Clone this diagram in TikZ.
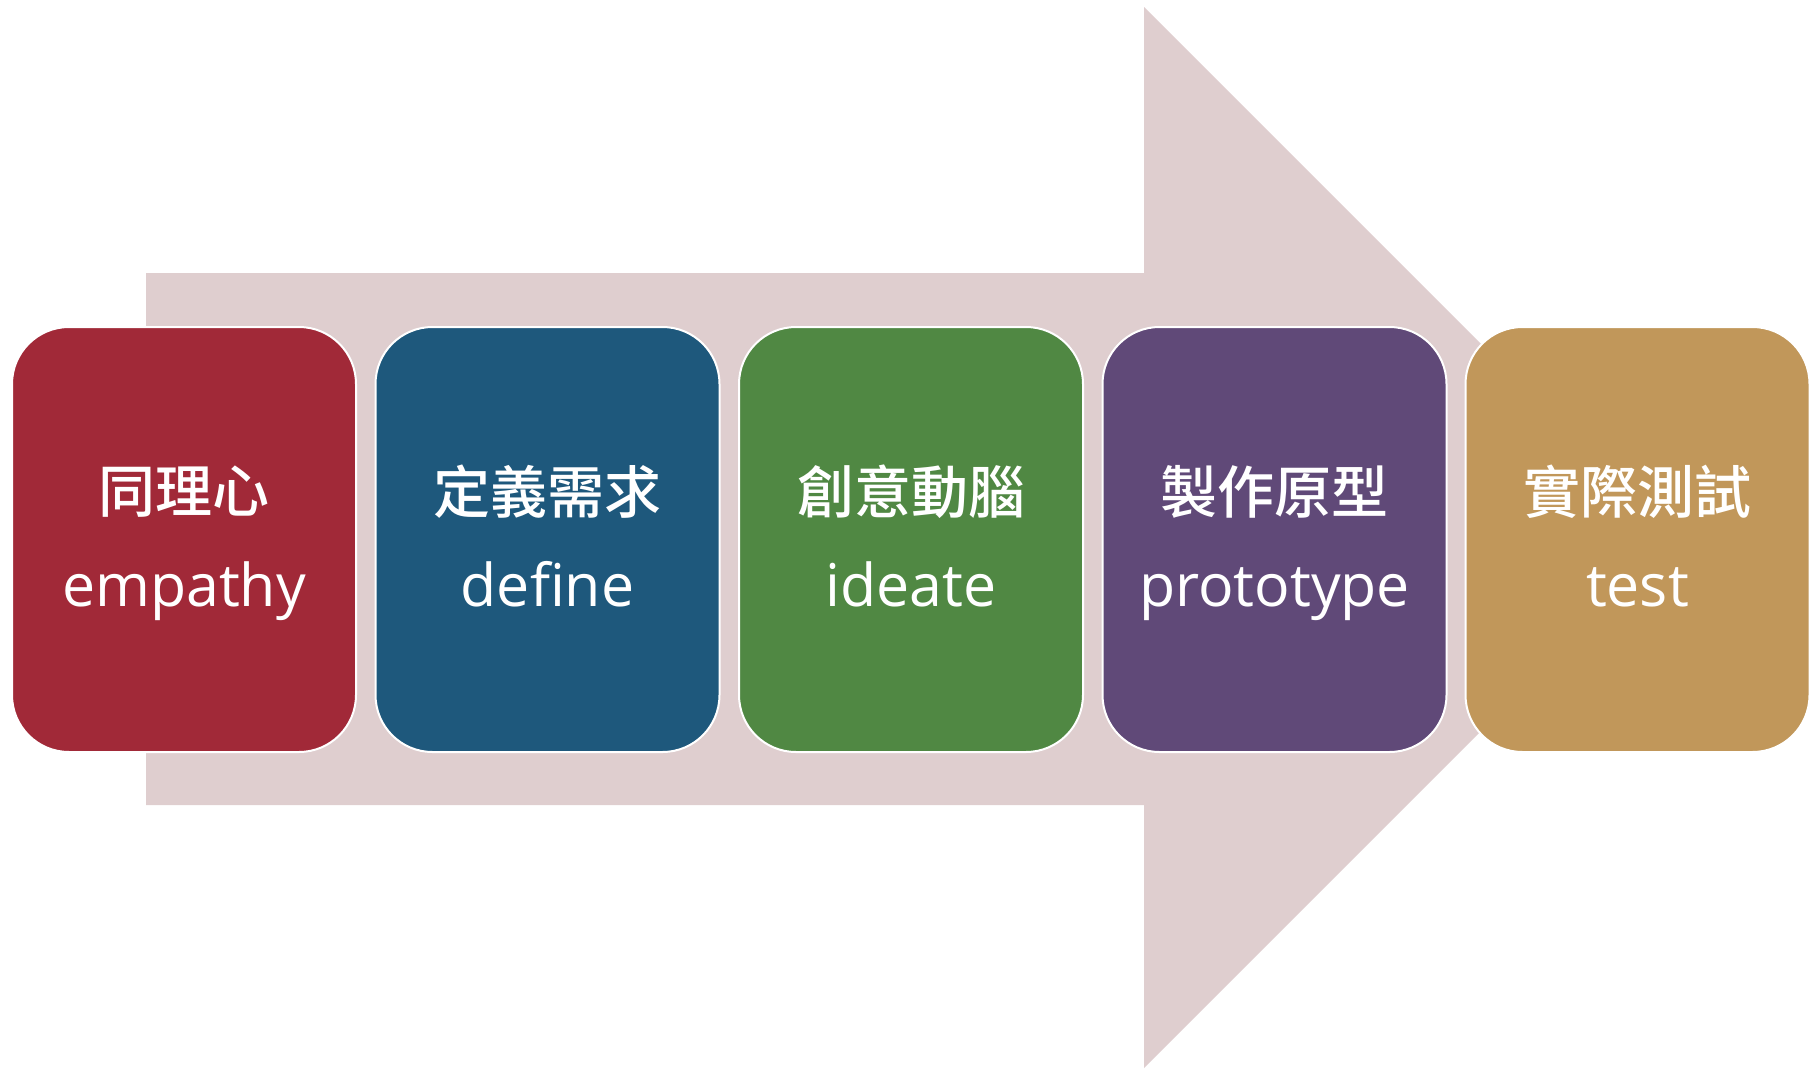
\documentclass[tikz,border=0pt]{standalone}
\usepackage{fontspec}
\setmainfont{Open Sans}
\newfontfamily\cjk{Noto Sans CJK TC Medium}
\definecolor{arrowc}{HTML}{DFCECF}
\definecolor{cA}{HTML}{A12938}
\definecolor{cB}{HTML}{1E587C}
\definecolor{cC}{HTML}{508843}
\definecolor{cD}{HTML}{604978}
\definecolor{cE}{HTML}{C1975A}
\begin{document}
\begin{tikzpicture}[x=1pt,y=-1pt,
  stagebox/.style={draw=white,line width=2pt,rounded corners=57pt,minimum width=344pt,minimum height=425pt,inner sep=0pt},
  cnlabel/.style={text=white,font=\cjk\fontsize{57}{60}\selectfont,inner sep=0pt},
  enlabel/.style={text=white,font=\fontsize{59}{62}\selectfont,inner sep=0pt,anchor=base}]
\useasboundingbox (0,0) rectangle (1810,1069);
\fill[arrowc] (146,273) -- (1144,273) -- (1144,7) -- (1674.5,537.5) -- (1144,1068) -- (1144,805) -- (146,805) -- cycle;
\foreach \i/\x/\c/\cn/\en in {1/184/cA/同理心/empathy, 2/547.5/cB/定義需求/define, 3/911/cC/創意動腦/ideate, 4/1274.5/cD/製作原型/prototype, 5/1637.5/cE/實際測試/test}{
  \node[stagebox,fill=\c] (b\i) at (\x,539.5) {};
  \node[cnlabel] (c\i) at (\x,492) {\cn};
  \node[enlabel] (e\i) at (\x,606) {\en};
}
\end{tikzpicture}
\end{document}
